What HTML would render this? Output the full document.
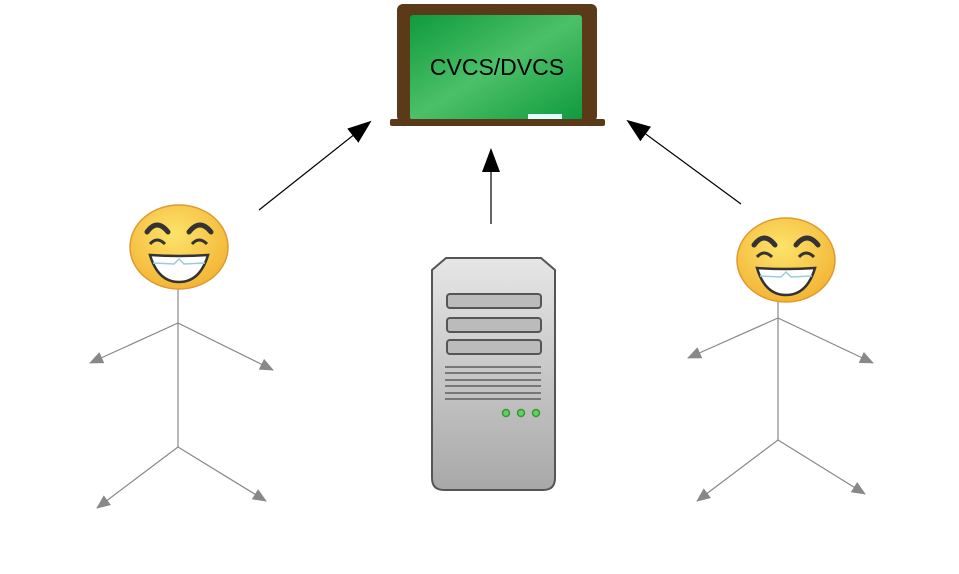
<!DOCTYPE html>
<html><head><style>body{margin:0;background:#fff}svg{display:block}</style></head><body>
<svg width="959" height="574" viewBox="0 0 959 574" xmlns="http://www.w3.org/2000/svg">
<defs>
<linearGradient id="g" x1="0" y1="0" x2="1" y2="1"><stop offset="0" stop-color="#0f9a3e"/><stop offset="0.5" stop-color="#4cc068"/><stop offset="1" stop-color="#0f9a3e"/></linearGradient>
<linearGradient id="s" x1="0" y1="0" x2="0" y2="1"><stop offset="0" stop-color="#e6e6e6"/><stop offset="1" stop-color="#a8a8a8"/></linearGradient>
<radialGradient id="f" cx="0.45" cy="0.35" r="0.7"><stop offset="0" stop-color="#fde36a"/><stop offset="1" stop-color="#f2b232"/></radialGradient>
<marker id="ah" markerWidth="14" markerHeight="12" refX="13" refY="6" orient="auto" markerUnits="userSpaceOnUse"><path d="M0,0 L14,6 L0,12z" fill="#888"/></marker>
<marker id="bh" markerWidth="24" markerHeight="24" refX="22" refY="12" orient="auto" markerUnits="userSpaceOnUse"><path d="M0,3 L24,12 L0,21z" fill="#000"/></marker>
</defs>
<rect x="397" y="4" width="200" height="118" rx="6" fill="#5b3a1a"/>
<rect x="410" y="15" width="172" height="105" rx="3" fill="url(#g)"/>
<rect x="528" y="114" width="34" height="5" fill="#dff"/>
<rect x="390" y="119" width="215" height="7" rx="2" fill="#5b3a1a"/>
<text x="497" y="75" text-anchor="middle" font-family="Liberation Sans, sans-serif" font-size="23" fill="#000">CVCS/DVCS</text>
<path d="M446,258 L541,258 L555,270 L555,478 Q555,490 543,490 L444,490 Q432,490 432,478 L432,270 Z" fill="url(#s)" stroke="#555" stroke-width="2"/>
<rect x="447" y="294" width="94" height="14" rx="3" fill="#bbb" stroke="#555" stroke-width="2"/>
<rect x="447" y="318" width="94" height="14" rx="3" fill="#bbb" stroke="#555" stroke-width="2"/>
<rect x="447" y="340" width="94" height="14" rx="3" fill="#bbb" stroke="#555" stroke-width="2"/>
<g stroke="#777" stroke-width="2"><line x1="445" y1="367" x2="541" y2="367"/><line x1="445" y1="373" x2="541" y2="373"/><line x1="445" y1="380" x2="541" y2="380"/><line x1="445" y1="386" x2="541" y2="386"/><line x1="445" y1="393" x2="541" y2="393"/><line x1="445" y1="399" x2="541" y2="399"/></g>
<g fill="#6c6" stroke="#393" stroke-width="1.5"><circle cx="506" cy="413" r="3.5"/><circle cx="521" cy="413" r="3.5"/><circle cx="536" cy="413" r="3.5"/></g>
<g stroke="#000" stroke-width="1.2" marker-end="url(#bh)">
<line x1="259" y1="210" x2="370" y2="122"/>
<line x1="491" y1="224" x2="491" y2="150"/>
<line x1="741" y1="204" x2="628" y2="121"/>
</g>
<g stroke="#888" stroke-width="1.2" marker-end="url(#ah)">
<line x1="178" y1="323" x2="90" y2="363"/><line x1="178" y1="323" x2="273" y2="370"/>
<line x1="178" y1="447" x2="97" y2="508"/><line x1="178" y1="447" x2="266" y2="501"/>
<line x1="778" y1="318" x2="688" y2="358"/><line x1="778" y1="318" x2="873" y2="363"/>
<line x1="778" y1="440" x2="697" y2="501"/><line x1="778" y1="440" x2="865" y2="494"/>
</g>
<g stroke="#888" stroke-width="1.2"><line x1="178" y1="289" x2="178" y2="447"/><line x1="778" y1="302" x2="778" y2="440"/></g>
<g id="face">
<ellipse cx="179" cy="247" rx="49" ry="42" fill="url(#f)" stroke="#e09a30" stroke-width="1.5"/>
<path d="M147,232 Q157,218 168,232" fill="none" stroke="#333" stroke-width="5" stroke-linecap="round"/>
<path d="M189,232 Q200,218 211,232" fill="none" stroke="#333" stroke-width="5" stroke-linecap="round"/>
<path d="M150,244 Q157,236 165,244" fill="none" stroke="#333" stroke-width="3"/>
<path d="M192,244 Q199,236 207,244" fill="none" stroke="#333" stroke-width="3"/>
<path d="M150,255 Q179,257 208,255 Q200,282 179,282 Q158,282 150,255Z" fill="#fff" stroke="#333" stroke-width="2.5"/>
<path d="M153,263 L174,264 L179,259 L184,264 L205,263" fill="none" stroke="#9cd" stroke-width="1.5"/>
</g>
<use href="#face" transform="translate(607,13)"/>
</svg>
</body></html>
